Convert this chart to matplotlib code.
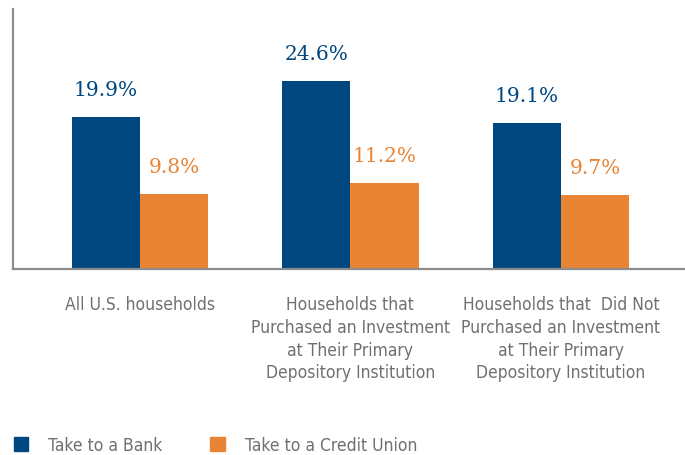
import numpy as np
import matplotlib.pyplot as plt
from matplotlib.patches import Patch

# Share of households that would take new business to each institution type
categories = [
    "All U.S. households",
    "Households that\nPurchased an Investment\nat Their Primary\nDepository Institution",
    "Households that  Did Not\nPurchased an Investment\nat Their Primary\nDepository Institution",
]
bank = [19.9, 24.6, 19.1]
credit_union = [9.8, 11.2, 9.7]
series_names = ["Take to a Bank", "Take to a Credit Union"]

blue = "#00467f"
orange = "#e88434"
gray = "#707070"
label_font = {"family": "DejaVu Sans", "stretch": "condensed", "weight": "light"}

fig = plt.figure(figsize=(6.85, 4.56), dpi=100)
ax = fig.add_axes([0.019, 0.408, 0.981, 0.57])

x = np.arange(len(categories))
w = 0.324
b1 = ax.bar(x - w / 2, bank, w, color=blue)
b2 = ax.bar(x + w / 2, credit_union, w, color=orange)

# Value labels above each bar
for bars, vals, c in [(b1, bank, blue), (b2, credit_union, orange)]:
    for r, v in zip(bars, vals):
        ax.annotate(f"{v:.1f}%", (r.get_x() + r.get_width() / 2, v),
                    xytext=(0, 16), textcoords="offset points",
                    ha="center", va="baseline", color=c,
                    fontsize=14.5, family="DejaVu Serif")

ax.set_xlim(-0.603, 2.59)
ax.set_ylim(0, 34)
ax.set_yticks([])
ax.set_xticks(x)
ax.set_xticklabels(categories, fontsize=12.5, color=gray, linespacing=1.33,
                   **label_font)
ax.tick_params(axis="x", length=0, pad=19)

for s in ["top", "right"]:
    ax.spines[s].set_visible(False)
for s in ["left", "bottom"]:
    ax.spines[s].set_color("#8c8c8c")
    ax.spines[s].set_linewidth(1.6)

handles = [Patch(color=blue), Patch(color=orange)]
leg = fig.legend(handles, series_names, loc="lower left",
                 bbox_to_anchor=(-0.003, -0.033), ncol=2, frameon=False,
                 handlelength=0.85, handleheight=0.85, handletextpad=1.15,
                 columnspacing=2.75,
                 prop=dict(size=12.5, **label_font))
for t in leg.get_texts():
    t.set_color(gray)

fig.savefig("out.png", dpi=100)
